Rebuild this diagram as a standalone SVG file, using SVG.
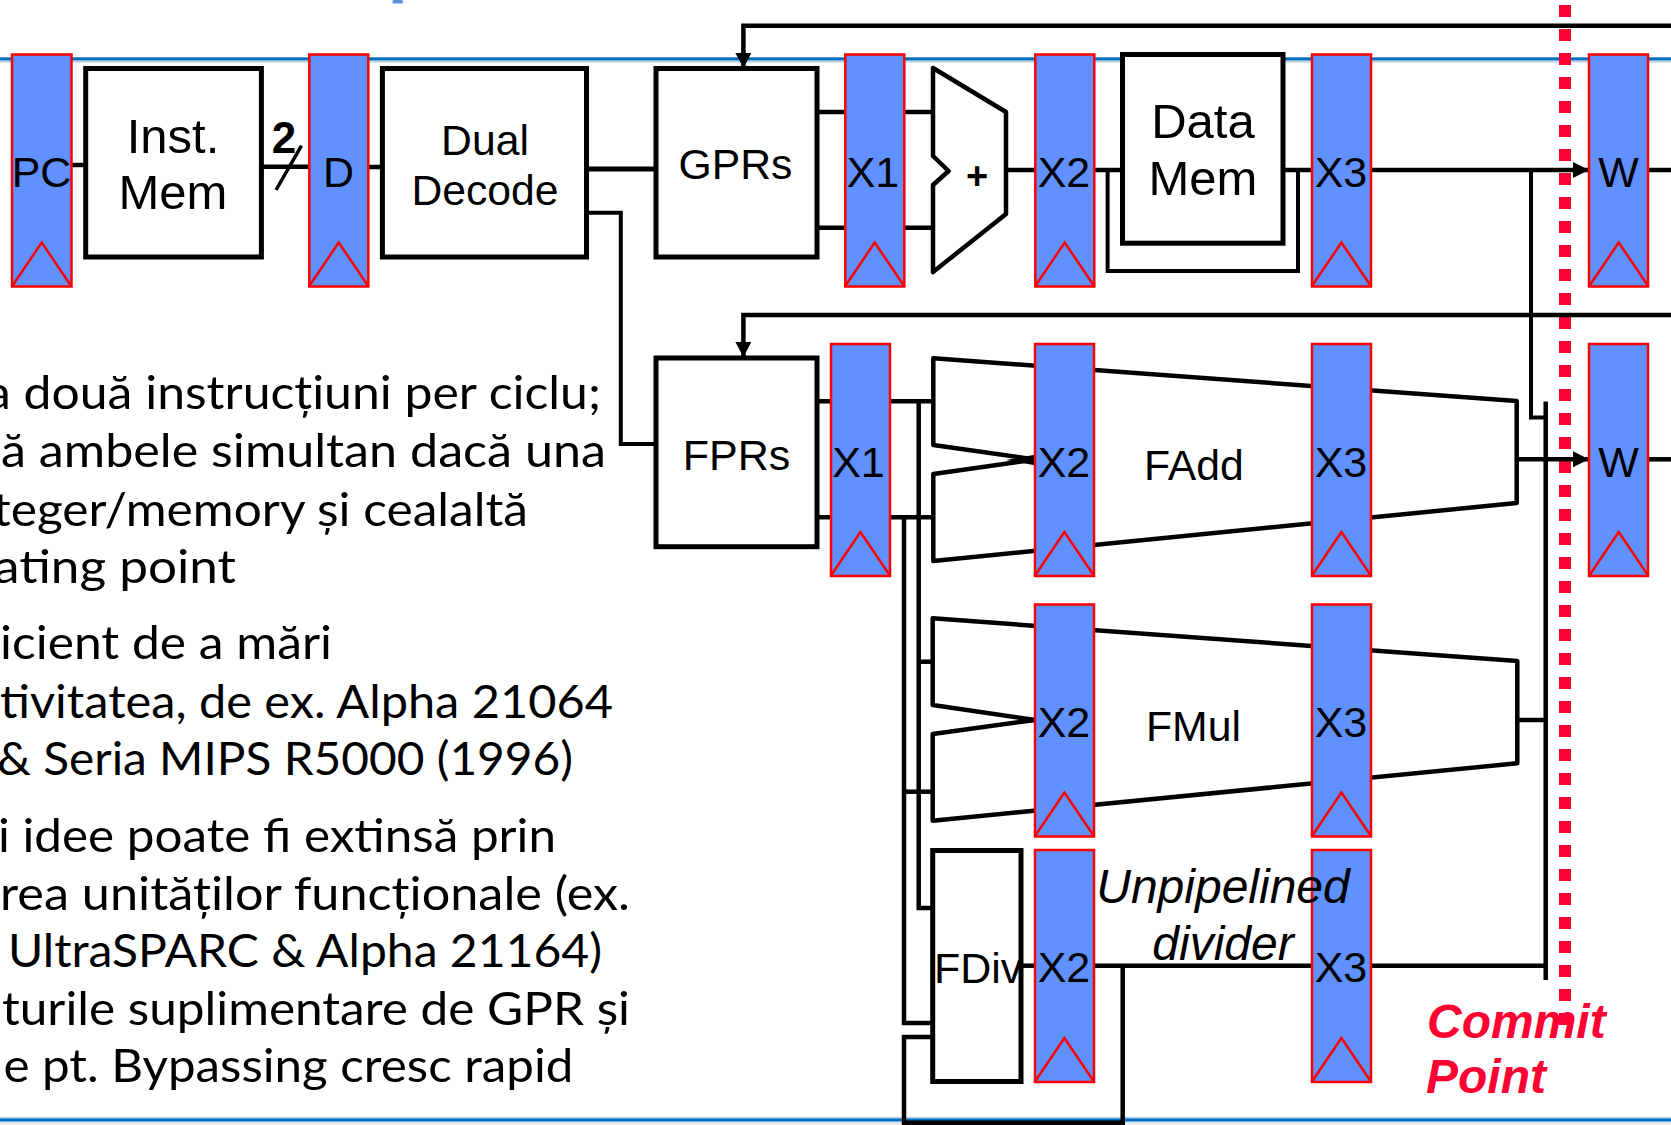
<svg xmlns="http://www.w3.org/2000/svg" width="1671" height="1125" viewBox="0 0 1671 1125">
<style>
text{font-family:"Liberation Sans",Arial,sans-serif;fill:#000}
.c{text-anchor:middle}
.s41{font-size:43px}
.s45{font-size:49px}
.s42{font-size:42.700px}
.reg{fill:#6190ff;stroke:#ff0000;stroke-width:2.500}
.clk{fill:none;stroke:#ff0000;stroke-width:2.500}
.box{fill:#fff;stroke:#000;stroke-width:5}
.unit{fill:#fff;stroke:#000;stroke-width:4.500;stroke-linejoin:round}
.w{fill:none;stroke:#000;stroke-width:4.500;stroke-linejoin:miter}
.n{stroke-width:4}
.body{font-family:Lato,"Liberation Sans",sans-serif;font-size:47px}
.red{font-size:48px;font-weight:bold;font-style:italic;fill:#ff0033}
.it{font-size:48px;font-style:italic}
</style>
<defs>
<marker id="arrow" markerUnits="userSpaceOnUse" markerWidth="16" markerHeight="16" refX="16" refY="8" orient="auto"><path d="M0 0L16 8L0 16Z" fill="#000"/></marker>
<marker id="arrowB" markerUnits="userSpaceOnUse" markerWidth="16" markerHeight="16" refX="15" refY="8" orient="auto"><path d="M0 0L15 8L0 16Z" fill="#000"/></marker>
<g id="clkT"><path class="clk" d="M0 44L29.700 0L59.500 44"/></g>
</defs>

<g id="rules">
<rect x="392.500" y="0" width="10.500" height="3.500" rx="1.500" fill="#5b8fd9"/>
<rect x="0" y="60" width="1671" height="2.500" fill="#b5cfe9"/>
<rect x="0" y="57.300" width="1671" height="3" fill="#0070c0"/>
<rect x="0" y="1116.800" width="1671" height="2" fill="#b5cfe9"/>
<rect x="0" y="1118.500" width="1671" height="3.200" fill="#0070c0"/>
<rect x="0" y="1121.700" width="1671" height="2.500" fill="#d5e4f3"/>
</g>

<g id="commit-line"><path d="M1565 5V1025" fill="none" stroke="#ff0033" stroke-width="12" stroke-dasharray="12 12"/></g>

<g id="connectors">
<path class="w" d="M71 165H86"/>
<path class="w" d="M261 166.700H309"/>
<path class="w" d="M276 190L301.500 145.700" style="stroke-width:3.500"/>
<path class="w" d="M368 167H382"/>
<path class="w" style="stroke-width:5" d="M586 169H656"/>
<path class="w n" d="M586 212.700H620.800V444H655"/>
<path class="w" d="M817 112H933"/>
<path class="w" d="M817 227.700H933"/>
<path class="w" d="M1006 170H1035"/>
<path class="w" d="M1094 170H1122"/>
<path class="w" d="M1283 170H1311"/>
<path class="w" d="M1371 170H1589" marker-end="url(#arrow)"/>
<path class="w" d="M1647 170H1671"/>
<path class="w n" d="M1107.600 170V271H1298V170"/>
<path class="w" d="M1671 25.700H743.400V68" marker-end="url(#arrowB)"/>
<path class="w" d="M1671 315H743.400V357" marker-end="url(#arrowB)"/>
<path class="w n" d="M1531 170V417.500H1545.700"/>
<path class="w" d="M1545.700 401.500V980"/>
<path class="w" d="M817 401.300H933"/>
<path class="w" d="M817 517.300H933"/>
<path class="w" d="M918.700 401.300V908H933"/>
<path class="w" d="M904 517.300V1023H933"/>
<path class="w" d="M918.700 661.700H933"/>
<path class="w" d="M902 791.700H933"/>
<path class="w" d="M933 1037H904V1122.700H1122.700V965.700"/>
<path class="w" d="M1021 965.700H1035"/>
<path class="w" d="M1094 965.700H1311"/>
<path class="w" d="M1371 965.700H1545.700"/>
<path class="w" d="M1516.700 459.300H1589" marker-end="url(#arrow)"/>
<path class="w" d="M1647 459.300H1671"/>
<path class="w" d="M1516.700 720H1545.700"/>
</g>

<g id="inst-mem"><rect class="box" x="85.700" y="68.500" width="175.700" height="188.500"/><text class="c s45" x="173" y="152.700">Inst.</text><text class="c s45" x="173" y="209">Mem</text></g>
<g id="dual-decode"><rect class="box" x="382.400" y="68.500" width="204.100" height="188.500"/><text class="c s42" x="485" y="155">Dual</text><text class="c s42" x="485" y="205">Decode</text></g>
<g id="gprs"><rect class="box" x="656" y="68.500" width="161" height="188.500"/><text class="c s42" x="735.500" y="179">GPRs</text></g>
<g id="fprs"><rect class="box" x="656" y="358" width="161" height="188.700"/><text class="c" font-size="43" x="736.500" y="470">FPRs</text></g>
<g id="data-mem"><rect class="box" x="1122.500" y="54.500" width="160.500" height="188.700"/><text class="c s45" x="1203" y="138">Data</text><text class="c s45" x="1203" y="195">Mem</text></g>
<g id="alu"><path class="unit" d="M933 68L1006 112V214L933 272V185L948.600 171L933 156Z"/><text class="c" font-size="38" font-weight="bold" x="977" y="189">+</text></g>
<g id="fadd"><path class="unit" d="M933.300 358.300L1516.700 401V503L933.300 561V474L1035 459.500L933.300 445Z"/><path d="M1006 460L1036 454.500V465.500Z" fill="#000"/><text class="s42" x="1144" y="480">FAdd</text></g>
<g id="fmul"><path class="unit" d="M932.700 618.300L1517.300 661V763.300L932.700 820.700V734L1035 720L932.700 705Z"/><text class="s42" x="1146" y="741">FMul</text></g>
<g id="fdiv"><rect class="box" x="932.700" y="850.500" width="88.300" height="231"/><text class="s41" x="934" y="983">FDiv</text></g>

<g id="reg-pc"><rect class="reg" x="12" y="54.500" width="59.500" height="232"/><use href="#clkT" x="12" y="242.500"/><text class="c s41" x="41.500" y="187">PC</text></g>
<g id="reg-d"><rect class="reg" x="309.300" y="54.500" width="59" height="232"/><use href="#clkT" x="309" y="242.500"/><text class="c s41" x="338.500" y="187">D</text></g>
<g id="reg-x1"><rect class="reg" x="845.300" y="54.500" width="59" height="232"/><use href="#clkT" x="845" y="242.500"/><text class="c s41" x="873" y="187">X1</text></g>
<g id="reg-x2"><rect class="reg" x="1035.300" y="54.500" width="59" height="232"/><use href="#clkT" x="1035" y="242.500"/><text class="c s41" x="1064" y="187">X2</text></g>
<g id="reg-x3"><rect class="reg" x="1312" y="54.500" width="59" height="232"/><use href="#clkT" x="1311.700" y="242.500"/><text class="c s41" x="1341" y="187">X3</text></g>
<g id="reg-w"><rect class="reg" x="1589" y="54.500" width="59" height="232"/><use href="#clkT" x="1589" y="242.500"/><text class="c s41" x="1618.500" y="187">W</text></g>

<g id="reg-fx1"><rect class="reg" x="831" y="344" width="59" height="232"/><use href="#clkT" x="830.700" y="532"/><text class="c s41" x="858.500" y="476.700">X1</text></g>
<g id="reg-fadd-x2"><rect class="reg" x="1035" y="344" width="59" height="232"/><use href="#clkT" x="1034.700" y="532"/><text class="c s41" x="1064" y="476.700">X2</text></g>
<g id="reg-fadd-x3"><rect class="reg" x="1312" y="344" width="59" height="232"/><use href="#clkT" x="1311.700" y="532"/><text class="c s41" x="1341" y="476.700">X3</text></g>
<g id="reg-fw"><rect class="reg" x="1589" y="344" width="59" height="232"/><use href="#clkT" x="1589" y="532"/><text class="c s41" x="1618.500" y="476.700">W</text></g>

<g id="reg-fmul-x2"><rect class="reg" x="1035" y="604.500" width="59" height="232"/><use href="#clkT" x="1034.700" y="792.500"/><text class="c s41" x="1064" y="737">X2</text></g>
<g id="reg-fmul-x3"><rect class="reg" x="1312" y="604.500" width="59" height="232"/><use href="#clkT" x="1311.700" y="792.500"/><text class="c s41" x="1341" y="737">X3</text></g>

<g id="reg-fdiv-x2"><rect class="reg" x="1035" y="850" width="59" height="232"/><use href="#clkT" x="1034.700" y="1038"/><text class="c s41" x="1064" y="982.300">X2</text></g>
<g id="reg-fdiv-x3"><rect class="reg" x="1312" y="850" width="59" height="232"/><use href="#clkT" x="1311.700" y="1038"/><text class="c s41" x="1341" y="982.300">X3</text></g>

<g id="labels">
<text font-size="44" font-weight="bold" class="c" x="284" y="153">2</text>
<text class="c it" x="1223" y="903.300">Unpipelined</text>
<text class="c it" x="1223" y="960">divider</text>
<text class="red" x="1427" y="1038.300">Commit</text>
<text class="red" x="1426" y="1093.300">Point</text>
</g>

<g id="body-text">
<text class="body" x="-14" y="409.300" textLength="615" lengthAdjust="spacingAndGlyphs">a două instrucțiuni per ciclu;</text>
<text class="body" x="1" y="466.700" textLength="605" lengthAdjust="spacingAndGlyphs">ă ambele simultan dacă una</text>
<text class="body" x="-7" y="525.500" textLength="535" lengthAdjust="spacingAndGlyphs">teger/memory și cealaltă</text>
<text class="body" x="-6" y="582.700" textLength="242" lengthAdjust="spacingAndGlyphs">ating point</text>
<text class="body" x="0" y="659" textLength="332" lengthAdjust="spacingAndGlyphs">icient de a mări</text>
<text class="body" x="0" y="717.500" textLength="613" lengthAdjust="spacingAndGlyphs">tivitatea, de ex. Alpha 21064</text>
<text class="body" x="-3" y="775" textLength="576" lengthAdjust="spacingAndGlyphs">&amp; Seria MIPS R5000 (1996)</text>
<text class="body" x="-2" y="852" textLength="558" lengthAdjust="spacingAndGlyphs">i idee poate fi extinsă prin</text>
<text class="body" x="0" y="910" textLength="630" lengthAdjust="spacingAndGlyphs">rea unităților funcționale (ex.</text>
<text class="body" x="8" y="966.700" textLength="594" lengthAdjust="spacingAndGlyphs">UltraSPARC &amp; Alpha 21164)</text>
<text class="body" x="2" y="1024.500" textLength="628" lengthAdjust="spacingAndGlyphs">turile suplimentare de GPR și</text>
<text class="body" x="3.400" y="1081.700" textLength="570" lengthAdjust="spacingAndGlyphs">e pt. Bypassing cresc rapid</text>
</g>
</svg>
